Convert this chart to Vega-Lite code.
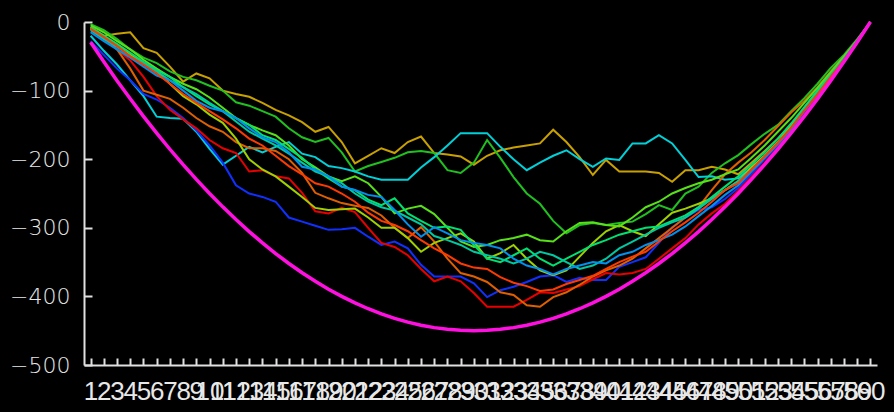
{
  "$schema": "https://vega.github.io/schema/vega-lite/v6.json",
  "width": 793,
  "height": 343,
  "autosize": {"type": "none"},
  "padding": {"left": 84, "top": 22, "right": 17, "bottom": 47},
  "background": "#000000",
  "config": {
    "view": {"stroke": null},
    "axis": {
      "domainColor": "#e0e0e0",
      "domainWidth": 2,
      "tickColor": "#e0e0e0",
      "tickWidth": 2,
      "labelColor": "#e8e8e8",
      "grid": false,
      "title": null
    }
  },
  "datasets": {
    "walks": [
      {"s":"gold","x":1,"y":-7},{"s":"gold","x":2,"y":-20},{"s":"gold","x":3,"y":-17},{"s":"gold","x":4,"y":-15},{"s":"gold","x":5,"y":-38},{"s":"gold","x":6,"y":-45},{"s":"gold","x":7,"y":-65},{"s":"gold","x":8,"y":-87},{"s":"gold","x":9,"y":-75},{"s":"gold","x":10,"y":-82},
      {"s":"gold","x":11,"y":-100},{"s":"gold","x":12,"y":-105},{"s":"gold","x":13,"y":-109},{"s":"gold","x":14,"y":-118},{"s":"gold","x":15,"y":-128},{"s":"gold","x":16,"y":-136},{"s":"gold","x":17,"y":-146},{"s":"gold","x":18,"y":-160},{"s":"gold","x":19,"y":-153},{"s":"gold","x":20,"y":-175},
      {"s":"gold","x":21,"y":-206},{"s":"gold","x":22,"y":-195},{"s":"gold","x":23,"y":-184},{"s":"gold","x":24,"y":-191},{"s":"gold","x":25,"y":-175},{"s":"gold","x":26,"y":-167},{"s":"gold","x":27,"y":-191},{"s":"gold","x":28,"y":-193},{"s":"gold","x":29,"y":-196},{"s":"gold","x":30,"y":-208},
      {"s":"gold","x":31,"y":-195},{"s":"gold","x":32,"y":-187},{"s":"gold","x":33,"y":-183},{"s":"gold","x":34,"y":-180},{"s":"gold","x":35,"y":-177},{"s":"gold","x":36,"y":-157},{"s":"gold","x":37,"y":-175},{"s":"gold","x":38,"y":-197},{"s":"gold","x":39,"y":-223},{"s":"gold","x":40,"y":-201},
      {"s":"gold","x":41,"y":-218},{"s":"gold","x":42,"y":-218},{"s":"gold","x":43,"y":-218},{"s":"gold","x":44,"y":-220},{"s":"gold","x":45,"y":-233},{"s":"gold","x":46,"y":-216},{"s":"gold","x":47,"y":-216},{"s":"gold","x":48,"y":-211},{"s":"gold","x":49,"y":-215},{"s":"gold","x":50,"y":-222},
      {"s":"gold","x":51,"y":-205},{"s":"gold","x":52,"y":-188},{"s":"gold","x":53,"y":-170},{"s":"gold","x":54,"y":-150},{"s":"gold","x":55,"y":-128},{"s":"gold","x":56,"y":-105},{"s":"gold","x":57,"y":-82},{"s":"gold","x":58,"y":-57},{"s":"gold","x":59,"y":-30},{"s":"gold","x":60,"y":0},

      {"s":"green","x":1,"y":-3},{"s":"green","x":2,"y":-12},{"s":"green","x":3,"y":-25},{"s":"green","x":4,"y":-40},{"s":"green","x":5,"y":-52},{"s":"green","x":6,"y":-60},{"s":"green","x":7,"y":-72},{"s":"green","x":8,"y":-80},{"s":"green","x":9,"y":-85},{"s":"green","x":10,"y":-93},
      {"s":"green","x":11,"y":-100},{"s":"green","x":12,"y":-117},{"s":"green","x":13,"y":-122},{"s":"green","x":14,"y":-130},{"s":"green","x":15,"y":-138},{"s":"green","x":16,"y":-155},{"s":"green","x":17,"y":-168},{"s":"green","x":18,"y":-175},{"s":"green","x":19,"y":-169},{"s":"green","x":20,"y":-190},
      {"s":"green","x":21,"y":-218},{"s":"green","x":22,"y":-210},{"s":"green","x":23,"y":-204},{"s":"green","x":24,"y":-198},{"s":"green","x":25,"y":-190},{"s":"green","x":26,"y":-188},{"s":"green","x":27,"y":-191},{"s":"green","x":28,"y":-216},{"s":"green","x":29,"y":-220},{"s":"green","x":30,"y":-205},
      {"s":"green","x":31,"y":-172},{"s":"green","x":32,"y":-198},{"s":"green","x":33,"y":-226},{"s":"green","x":34,"y":-250},{"s":"green","x":35,"y":-265},{"s":"green","x":36,"y":-290},{"s":"green","x":37,"y":-308},{"s":"green","x":38,"y":-296},{"s":"green","x":39,"y":-293},{"s":"green","x":40,"y":-296},
      {"s":"green","x":41,"y":-293},{"s":"green","x":42,"y":-291},{"s":"green","x":43,"y":-280},{"s":"green","x":44,"y":-267},{"s":"green","x":45,"y":-274},{"s":"green","x":46,"y":-250},{"s":"green","x":47,"y":-240},{"s":"green","x":48,"y":-220},{"s":"green","x":49,"y":-206},{"s":"green","x":50,"y":-194},
      {"s":"green","x":51,"y":-178},{"s":"green","x":52,"y":-163},{"s":"green","x":53,"y":-150},{"s":"green","x":54,"y":-130},{"s":"green","x":55,"y":-111},{"s":"green","x":56,"y":-90},{"s":"green","x":57,"y":-67},{"s":"green","x":58,"y":-48},{"s":"green","x":59,"y":-25},{"s":"green","x":60,"y":0},

      {"s":"cyan","x":1,"y":-20},{"s":"cyan","x":2,"y":-42},{"s":"cyan","x":3,"y":-62},{"s":"cyan","x":4,"y":-85},{"s":"cyan","x":5,"y":-108},{"s":"cyan","x":6,"y":-138},{"s":"cyan","x":7,"y":-140},{"s":"cyan","x":8,"y":-141},{"s":"cyan","x":9,"y":-160},{"s":"cyan","x":10,"y":-185},
      {"s":"cyan","x":11,"y":-208},{"s":"cyan","x":12,"y":-195},{"s":"cyan","x":13,"y":-182},{"s":"cyan","x":14,"y":-190},{"s":"cyan","x":15,"y":-182},{"s":"cyan","x":16,"y":-175},{"s":"cyan","x":17,"y":-192},{"s":"cyan","x":18,"y":-197},{"s":"cyan","x":19,"y":-210},{"s":"cyan","x":20,"y":-213},
      {"s":"cyan","x":21,"y":-218},{"s":"cyan","x":22,"y":-225},{"s":"cyan","x":23,"y":-230},{"s":"cyan","x":24,"y":-230},{"s":"cyan","x":25,"y":-230},{"s":"cyan","x":26,"y":-212},{"s":"cyan","x":27,"y":-197},{"s":"cyan","x":28,"y":-180},{"s":"cyan","x":29,"y":-162},{"s":"cyan","x":30,"y":-162},
      {"s":"cyan","x":31,"y":-162},{"s":"cyan","x":32,"y":-182},{"s":"cyan","x":33,"y":-200},{"s":"cyan","x":34,"y":-216},{"s":"cyan","x":35,"y":-205},{"s":"cyan","x":36,"y":-195},{"s":"cyan","x":37,"y":-187},{"s":"cyan","x":38,"y":-200},{"s":"cyan","x":39,"y":-211},{"s":"cyan","x":40,"y":-199},
      {"s":"cyan","x":41,"y":-201},{"s":"cyan","x":42,"y":-177},{"s":"cyan","x":43,"y":-177},{"s":"cyan","x":44,"y":-165},{"s":"cyan","x":45,"y":-177},{"s":"cyan","x":46,"y":-201},{"s":"cyan","x":47,"y":-226},{"s":"cyan","x":48,"y":-225},{"s":"cyan","x":49,"y":-230},{"s":"cyan","x":50,"y":-228},
      {"s":"cyan","x":51,"y":-212},{"s":"cyan","x":52,"y":-195},{"s":"cyan","x":53,"y":-175},{"s":"cyan","x":54,"y":-152},{"s":"cyan","x":55,"y":-125},{"s":"cyan","x":56,"y":-100},{"s":"cyan","x":57,"y":-75},{"s":"cyan","x":58,"y":-52},{"s":"cyan","x":59,"y":-27},{"s":"cyan","x":60,"y":0},

      {"s":"blue","x":1,"y":-28},{"s":"blue","x":2,"y":-48},{"s":"blue","x":3,"y":-68},{"s":"blue","x":4,"y":-85},{"s":"blue","x":5,"y":-105},{"s":"blue","x":6,"y":-113},{"s":"blue","x":7,"y":-125},{"s":"blue","x":8,"y":-140},{"s":"blue","x":9,"y":-158},{"s":"blue","x":10,"y":-180},
      {"s":"blue","x":11,"y":-205},{"s":"blue","x":12,"y":-238},{"s":"blue","x":13,"y":-250},{"s":"blue","x":14,"y":-255},{"s":"blue","x":15,"y":-262},{"s":"blue","x":16,"y":-285},{"s":"blue","x":17,"y":-291},{"s":"blue","x":18,"y":-297},{"s":"blue","x":19,"y":-303},{"s":"blue","x":20,"y":-302},
      {"s":"blue","x":21,"y":-300},{"s":"blue","x":22,"y":-313},{"s":"blue","x":23,"y":-325},{"s":"blue","x":24,"y":-320},{"s":"blue","x":25,"y":-330},{"s":"blue","x":26,"y":-354},{"s":"blue","x":27,"y":-371},{"s":"blue","x":28,"y":-371},{"s":"blue","x":29,"y":-371},{"s":"blue","x":30,"y":-381},
      {"s":"blue","x":31,"y":-401},{"s":"blue","x":32,"y":-391},{"s":"blue","x":33,"y":-386},{"s":"blue","x":34,"y":-379},{"s":"blue","x":35,"y":-371},{"s":"blue","x":36,"y":-369},{"s":"blue","x":37,"y":-379},{"s":"blue","x":38,"y":-373},{"s":"blue","x":39,"y":-376},{"s":"blue","x":40,"y":-376},
      {"s":"blue","x":41,"y":-357},{"s":"blue","x":42,"y":-350},{"s":"blue","x":43,"y":-343},{"s":"blue","x":44,"y":-322},{"s":"blue","x":45,"y":-299},{"s":"blue","x":46,"y":-285},{"s":"blue","x":47,"y":-274},{"s":"blue","x":48,"y":-270},{"s":"blue","x":49,"y":-258},{"s":"blue","x":50,"y":-242},
      {"s":"blue","x":51,"y":-222},{"s":"blue","x":52,"y":-200},{"s":"blue","x":53,"y":-180},{"s":"blue","x":54,"y":-158},{"s":"blue","x":55,"y":-132},{"s":"blue","x":56,"y":-108},{"s":"blue","x":57,"y":-82},{"s":"blue","x":58,"y":-56},{"s":"blue","x":59,"y":-29},{"s":"blue","x":60,"y":0},

      {"s":"red","x":1,"y":-10},{"s":"red","x":2,"y":-25},{"s":"red","x":3,"y":-40},{"s":"red","x":4,"y":-56},{"s":"red","x":5,"y":-80},{"s":"red","x":6,"y":-108},{"s":"red","x":7,"y":-128},{"s":"red","x":8,"y":-142},{"s":"red","x":9,"y":-155},{"s":"red","x":10,"y":-172},
      {"s":"red","x":11,"y":-184},{"s":"red","x":12,"y":-191},{"s":"red","x":13,"y":-218},{"s":"red","x":14,"y":-216},{"s":"red","x":15,"y":-225},{"s":"red","x":16,"y":-228},{"s":"red","x":17,"y":-249},{"s":"red","x":18,"y":-276},{"s":"red","x":19,"y":-279},{"s":"red","x":20,"y":-271},
      {"s":"red","x":21,"y":-277},{"s":"red","x":22,"y":-300},{"s":"red","x":23,"y":-322},{"s":"red","x":24,"y":-328},{"s":"red","x":25,"y":-340},{"s":"red","x":26,"y":-360},{"s":"red","x":27,"y":-378},{"s":"red","x":28,"y":-371},{"s":"red","x":29,"y":-378},{"s":"red","x":30,"y":-395},
      {"s":"red","x":31,"y":-415},{"s":"red","x":32,"y":-415},{"s":"red","x":33,"y":-415},{"s":"red","x":34,"y":-405},{"s":"red","x":35,"y":-394},{"s":"red","x":36,"y":-395},{"s":"red","x":37,"y":-390},{"s":"red","x":38,"y":-385},{"s":"red","x":39,"y":-375},{"s":"red","x":40,"y":-366},
      {"s":"red","x":41,"y":-368},{"s":"red","x":42,"y":-366},{"s":"red","x":43,"y":-360},{"s":"red","x":44,"y":-345},{"s":"red","x":45,"y":-330},{"s":"red","x":46,"y":-315},{"s":"red","x":47,"y":-295},{"s":"red","x":48,"y":-279},{"s":"red","x":49,"y":-265},{"s":"red","x":50,"y":-246},
      {"s":"red","x":51,"y":-226},{"s":"red","x":52,"y":-205},{"s":"red","x":53,"y":-183},{"s":"red","x":54,"y":-160},{"s":"red","x":55,"y":-135},{"s":"red","x":56,"y":-110},{"s":"red","x":57,"y":-84},{"s":"red","x":58,"y":-57},{"s":"red","x":59,"y":-29},{"s":"red","x":60,"y":0},

      {"s":"orange","x":1,"y":-8},{"s":"orange","x":2,"y":-20},{"s":"orange","x":3,"y":-40},{"s":"orange","x":4,"y":-68},{"s":"orange","x":5,"y":-100},{"s":"orange","x":6,"y":-106},{"s":"orange","x":7,"y":-112},{"s":"orange","x":8,"y":-125},{"s":"orange","x":9,"y":-140},{"s":"orange","x":10,"y":-152},
      {"s":"orange","x":11,"y":-160},{"s":"orange","x":12,"y":-175},{"s":"orange","x":13,"y":-184},{"s":"orange","x":14,"y":-184},{"s":"orange","x":15,"y":-188},{"s":"orange","x":16,"y":-200},{"s":"orange","x":17,"y":-220},{"s":"orange","x":18,"y":-249},{"s":"orange","x":19,"y":-257},{"s":"orange","x":20,"y":-264},
      {"s":"orange","x":21,"y":-268},{"s":"orange","x":22,"y":-271},{"s":"orange","x":23,"y":-282},{"s":"orange","x":24,"y":-300},{"s":"orange","x":25,"y":-315},{"s":"orange","x":26,"y":-299},{"s":"orange","x":27,"y":-320},{"s":"orange","x":28,"y":-345},{"s":"orange","x":29,"y":-366},{"s":"orange","x":30,"y":-371},
      {"s":"orange","x":31,"y":-379},{"s":"orange","x":32,"y":-394},{"s":"orange","x":33,"y":-398},{"s":"orange","x":34,"y":-413},{"s":"orange","x":35,"y":-415},{"s":"orange","x":36,"y":-401},{"s":"orange","x":37,"y":-394},{"s":"orange","x":38,"y":-383},{"s":"orange","x":39,"y":-371},{"s":"orange","x":40,"y":-362},
      {"s":"orange","x":41,"y":-355},{"s":"orange","x":42,"y":-345},{"s":"orange","x":43,"y":-330},{"s":"orange","x":44,"y":-315},{"s":"orange","x":45,"y":-300},{"s":"orange","x":46,"y":-285},{"s":"orange","x":47,"y":-270},{"s":"orange","x":48,"y":-245},{"s":"orange","x":49,"y":-222},{"s":"orange","x":50,"y":-205},
      {"s":"orange","x":51,"y":-190},{"s":"orange","x":52,"y":-172},{"s":"orange","x":53,"y":-152},{"s":"orange","x":54,"y":-132},{"s":"orange","x":55,"y":-115},{"s":"orange","x":56,"y":-95},{"s":"orange","x":57,"y":-72},{"s":"orange","x":58,"y":-50},{"s":"orange","x":59,"y":-27},{"s":"orange","x":60,"y":0},

      {"s":"yellowgreen","x":1,"y":-10},{"s":"yellowgreen","x":2,"y":-22},{"s":"yellowgreen","x":3,"y":-35},{"s":"yellowgreen","x":4,"y":-48},{"s":"yellowgreen","x":5,"y":-60},{"s":"yellowgreen","x":6,"y":-72},{"s":"yellowgreen","x":7,"y":-90},{"s":"yellowgreen","x":8,"y":-108},{"s":"yellowgreen","x":9,"y":-120},{"s":"yellowgreen","x":10,"y":-135},
      {"s":"yellowgreen","x":11,"y":-147},{"s":"yellowgreen","x":12,"y":-170},{"s":"yellowgreen","x":13,"y":-200},{"s":"yellowgreen","x":14,"y":-215},{"s":"yellowgreen","x":15,"y":-225},{"s":"yellowgreen","x":16,"y":-240},{"s":"yellowgreen","x":17,"y":-255},{"s":"yellowgreen","x":18,"y":-271},{"s":"yellowgreen","x":19,"y":-274},{"s":"yellowgreen","x":20,"y":-273},
      {"s":"yellowgreen","x":21,"y":-272},{"s":"yellowgreen","x":22,"y":-285},{"s":"yellowgreen","x":23,"y":-300},{"s":"yellowgreen","x":24,"y":-300},{"s":"yellowgreen","x":25,"y":-315},{"s":"yellowgreen","x":26,"y":-335},{"s":"yellowgreen","x":27,"y":-322},{"s":"yellowgreen","x":28,"y":-315},{"s":"yellowgreen","x":29,"y":-308},{"s":"yellowgreen","x":30,"y":-320},
      {"s":"yellowgreen","x":31,"y":-345},{"s":"yellowgreen","x":32,"y":-337},{"s":"yellowgreen","x":33,"y":-325},{"s":"yellowgreen","x":34,"y":-345},{"s":"yellowgreen","x":35,"y":-362},{"s":"yellowgreen","x":36,"y":-369},{"s":"yellowgreen","x":37,"y":-362},{"s":"yellowgreen","x":38,"y":-342},{"s":"yellowgreen","x":39,"y":-322},{"s":"yellowgreen","x":40,"y":-305},
      {"s":"yellowgreen","x":41,"y":-296},{"s":"yellowgreen","x":42,"y":-305},{"s":"yellowgreen","x":43,"y":-312},{"s":"yellowgreen","x":44,"y":-295},{"s":"yellowgreen","x":45,"y":-278},{"s":"yellowgreen","x":46,"y":-272},{"s":"yellowgreen","x":47,"y":-265},{"s":"yellowgreen","x":48,"y":-257},{"s":"yellowgreen","x":49,"y":-245},{"s":"yellowgreen","x":50,"y":-232},
      {"s":"yellowgreen","x":51,"y":-212},{"s":"yellowgreen","x":52,"y":-195},{"s":"yellowgreen","x":53,"y":-175},{"s":"yellowgreen","x":54,"y":-152},{"s":"yellowgreen","x":55,"y":-128},{"s":"yellowgreen","x":56,"y":-104},{"s":"yellowgreen","x":57,"y":-80},{"s":"yellowgreen","x":58,"y":-55},{"s":"yellowgreen","x":59,"y":-29},{"s":"yellowgreen","x":60,"y":0},

      {"s":"lime","x":1,"y":-5},{"s":"lime","x":2,"y":-15},{"s":"lime","x":3,"y":-28},{"s":"lime","x":4,"y":-40},{"s":"lime","x":5,"y":-55},{"s":"lime","x":6,"y":-68},{"s":"lime","x":7,"y":-80},{"s":"lime","x":8,"y":-90},{"s":"lime","x":9,"y":-98},{"s":"lime","x":10,"y":-110},
      {"s":"lime","x":11,"y":-125},{"s":"lime","x":12,"y":-140},{"s":"lime","x":13,"y":-150},{"s":"lime","x":14,"y":-158},{"s":"lime","x":15,"y":-165},{"s":"lime","x":16,"y":-180},{"s":"lime","x":17,"y":-200},{"s":"lime","x":18,"y":-212},{"s":"lime","x":19,"y":-225},{"s":"lime","x":20,"y":-232},
      {"s":"lime","x":21,"y":-225},{"s":"lime","x":22,"y":-235},{"s":"lime","x":23,"y":-255},{"s":"lime","x":24,"y":-279},{"s":"lime","x":25,"y":-272},{"s":"lime","x":26,"y":-268},{"s":"lime","x":27,"y":-280},{"s":"lime","x":28,"y":-300},{"s":"lime","x":29,"y":-320},{"s":"lime","x":30,"y":-328},
      {"s":"lime","x":31,"y":-325},{"s":"lime","x":32,"y":-318},{"s":"lime","x":33,"y":-315},{"s":"lime","x":34,"y":-310},{"s":"lime","x":35,"y":-318},{"s":"lime","x":36,"y":-320},{"s":"lime","x":37,"y":-305},{"s":"lime","x":38,"y":-293},{"s":"lime","x":39,"y":-292},{"s":"lime","x":40,"y":-296},
      {"s":"lime","x":41,"y":-298},{"s":"lime","x":42,"y":-285},{"s":"lime","x":43,"y":-270},{"s":"lime","x":44,"y":-262},{"s":"lime","x":45,"y":-250},{"s":"lime","x":46,"y":-242},{"s":"lime","x":47,"y":-235},{"s":"lime","x":48,"y":-230},{"s":"lime","x":49,"y":-222},{"s":"lime","x":50,"y":-215},
      {"s":"lime","x":51,"y":-198},{"s":"lime","x":52,"y":-180},{"s":"lime","x":53,"y":-160},{"s":"lime","x":54,"y":-140},{"s":"lime","x":55,"y":-118},{"s":"lime","x":56,"y":-96},{"s":"lime","x":57,"y":-73},{"s":"lime","x":58,"y":-50},{"s":"lime","x":59,"y":-27},{"s":"lime","x":60,"y":0},

      {"s":"spring","x":1,"y":-8},{"s":"spring","x":2,"y":-20},{"s":"spring","x":3,"y":-32},{"s":"spring","x":4,"y":-45},{"s":"spring","x":5,"y":-58},{"s":"spring","x":6,"y":-70},{"s":"spring","x":7,"y":-80},{"s":"spring","x":8,"y":-95},{"s":"spring","x":9,"y":-108},{"s":"spring","x":10,"y":-120},
      {"s":"spring","x":11,"y":-130},{"s":"spring","x":12,"y":-140},{"s":"spring","x":13,"y":-150},{"s":"spring","x":14,"y":-165},{"s":"spring","x":15,"y":-172},{"s":"spring","x":16,"y":-185},{"s":"spring","x":17,"y":-198},{"s":"spring","x":18,"y":-215},{"s":"spring","x":19,"y":-228},{"s":"spring","x":20,"y":-240},
      {"s":"spring","x":21,"y":-245},{"s":"spring","x":22,"y":-259},{"s":"spring","x":23,"y":-267},{"s":"spring","x":24,"y":-257},{"s":"spring","x":25,"y":-279},{"s":"spring","x":26,"y":-290},{"s":"spring","x":27,"y":-300},{"s":"spring","x":28,"y":-298},{"s":"spring","x":29,"y":-303},{"s":"spring","x":30,"y":-325},
      {"s":"spring","x":31,"y":-345},{"s":"spring","x":32,"y":-350},{"s":"spring","x":33,"y":-340},{"s":"spring","x":34,"y":-330},{"s":"spring","x":35,"y":-345},{"s":"spring","x":36,"y":-355},{"s":"spring","x":37,"y":-345},{"s":"spring","x":38,"y":-335},{"s":"spring","x":39,"y":-325},{"s":"spring","x":40,"y":-318},
      {"s":"spring","x":41,"y":-310},{"s":"spring","x":42,"y":-305},{"s":"spring","x":43,"y":-300},{"s":"spring","x":44,"y":-298},{"s":"spring","x":45,"y":-290},{"s":"spring","x":46,"y":-282},{"s":"spring","x":47,"y":-270},{"s":"spring","x":48,"y":-255},{"s":"spring","x":49,"y":-240},{"s":"spring","x":50,"y":-225},
      {"s":"spring","x":51,"y":-208},{"s":"spring","x":52,"y":-190},{"s":"spring","x":53,"y":-170},{"s":"spring","x":54,"y":-148},{"s":"spring","x":55,"y":-124},{"s":"spring","x":56,"y":-100},{"s":"spring","x":57,"y":-77},{"s":"spring","x":58,"y":-53},{"s":"spring","x":59,"y":-28},{"s":"spring","x":60,"y":0},

      {"s":"teal","x":1,"y":-12},{"s":"teal","x":2,"y":-25},{"s":"teal","x":3,"y":-36},{"s":"teal","x":4,"y":-50},{"s":"teal","x":5,"y":-60},{"s":"teal","x":6,"y":-72},{"s":"teal","x":7,"y":-85},{"s":"teal","x":8,"y":-95},{"s":"teal","x":9,"y":-105},{"s":"teal","x":10,"y":-118},
      {"s":"teal","x":11,"y":-130},{"s":"teal","x":12,"y":-145},{"s":"teal","x":13,"y":-160},{"s":"teal","x":14,"y":-170},{"s":"teal","x":15,"y":-180},{"s":"teal","x":16,"y":-192},{"s":"teal","x":17,"y":-205},{"s":"teal","x":18,"y":-218},{"s":"teal","x":19,"y":-225},{"s":"teal","x":20,"y":-235},
      {"s":"teal","x":21,"y":-250},{"s":"teal","x":22,"y":-262},{"s":"teal","x":23,"y":-270},{"s":"teal","x":24,"y":-275},{"s":"teal","x":25,"y":-285},{"s":"teal","x":26,"y":-295},{"s":"teal","x":27,"y":-312},{"s":"teal","x":28,"y":-318},{"s":"teal","x":29,"y":-325},{"s":"teal","x":30,"y":-335},
      {"s":"teal","x":31,"y":-340},{"s":"teal","x":32,"y":-345},{"s":"teal","x":33,"y":-352},{"s":"teal","x":34,"y":-345},{"s":"teal","x":35,"y":-335},{"s":"teal","x":36,"y":-340},{"s":"teal","x":37,"y":-350},{"s":"teal","x":38,"y":-360},{"s":"teal","x":39,"y":-355},{"s":"teal","x":40,"y":-345},
      {"s":"teal","x":41,"y":-330},{"s":"teal","x":42,"y":-320},{"s":"teal","x":43,"y":-310},{"s":"teal","x":44,"y":-300},{"s":"teal","x":45,"y":-292},{"s":"teal","x":46,"y":-285},{"s":"teal","x":47,"y":-272},{"s":"teal","x":48,"y":-258},{"s":"teal","x":49,"y":-245},{"s":"teal","x":50,"y":-232},
      {"s":"teal","x":51,"y":-215},{"s":"teal","x":52,"y":-196},{"s":"teal","x":53,"y":-176},{"s":"teal","x":54,"y":-154},{"s":"teal","x":55,"y":-128},{"s":"teal","x":56,"y":-104},{"s":"teal","x":57,"y":-79},{"s":"teal","x":58,"y":-54},{"s":"teal","x":59,"y":-28},{"s":"teal","x":60,"y":0},

      {"s":"sky","x":1,"y":-15},{"s":"sky","x":2,"y":-28},{"s":"sky","x":3,"y":-40},{"s":"sky","x":4,"y":-52},{"s":"sky","x":5,"y":-65},{"s":"sky","x":6,"y":-78},{"s":"sky","x":7,"y":-85},{"s":"sky","x":8,"y":-100},{"s":"sky","x":9,"y":-115},{"s":"sky","x":10,"y":-125},
      {"s":"sky","x":11,"y":-130},{"s":"sky","x":12,"y":-140},{"s":"sky","x":13,"y":-155},{"s":"sky","x":14,"y":-168},{"s":"sky","x":15,"y":-175},{"s":"sky","x":16,"y":-190},{"s":"sky","x":17,"y":-211},{"s":"sky","x":18,"y":-215},{"s":"sky","x":19,"y":-225},{"s":"sky","x":20,"y":-240},
      {"s":"sky","x":21,"y":-245},{"s":"sky","x":22,"y":-252},{"s":"sky","x":23,"y":-255},{"s":"sky","x":24,"y":-274},{"s":"sky","x":25,"y":-295},{"s":"sky","x":26,"y":-313},{"s":"sky","x":27,"y":-299},{"s":"sky","x":28,"y":-308},{"s":"sky","x":29,"y":-318},{"s":"sky","x":30,"y":-322},
      {"s":"sky","x":31,"y":-325},{"s":"sky","x":32,"y":-330},{"s":"sky","x":33,"y":-345},{"s":"sky","x":34,"y":-355},{"s":"sky","x":35,"y":-360},{"s":"sky","x":36,"y":-368},{"s":"sky","x":37,"y":-360},{"s":"sky","x":38,"y":-355},{"s":"sky","x":39,"y":-350},{"s":"sky","x":40,"y":-352},
      {"s":"sky","x":41,"y":-340},{"s":"sky","x":42,"y":-335},{"s":"sky","x":43,"y":-325},{"s":"sky","x":44,"y":-318},{"s":"sky","x":45,"y":-310},{"s":"sky","x":46,"y":-298},{"s":"sky","x":47,"y":-283},{"s":"sky","x":48,"y":-268},{"s":"sky","x":49,"y":-252},{"s":"sky","x":50,"y":-238},
      {"s":"sky","x":51,"y":-218},{"s":"sky","x":52,"y":-198},{"s":"sky","x":53,"y":-178},{"s":"sky","x":54,"y":-156},{"s":"sky","x":55,"y":-130},{"s":"sky","x":56,"y":-106},{"s":"sky","x":57,"y":-81},{"s":"sky","x":58,"y":-55},{"s":"sky","x":59,"y":-28},{"s":"sky","x":60,"y":0},

      {"s":"orangered","x":1,"y":-10},{"s":"orangered","x":2,"y":-22},{"s":"orangered","x":3,"y":-35},{"s":"orangered","x":4,"y":-50},{"s":"orangered","x":5,"y":-62},{"s":"orangered","x":6,"y":-75},{"s":"orangered","x":7,"y":-90},{"s":"orangered","x":8,"y":-105},{"s":"orangered","x":9,"y":-118},{"s":"orangered","x":10,"y":-130},
      {"s":"orangered","x":11,"y":-142},{"s":"orangered","x":12,"y":-155},{"s":"orangered","x":13,"y":-170},{"s":"orangered","x":14,"y":-180},{"s":"orangered","x":15,"y":-195},{"s":"orangered","x":16,"y":-210},{"s":"orangered","x":17,"y":-222},{"s":"orangered","x":18,"y":-235},{"s":"orangered","x":19,"y":-240},{"s":"orangered","x":20,"y":-250},
      {"s":"orangered","x":21,"y":-262},{"s":"orangered","x":22,"y":-278},{"s":"orangered","x":23,"y":-290},{"s":"orangered","x":24,"y":-296},{"s":"orangered","x":25,"y":-305},{"s":"orangered","x":26,"y":-318},{"s":"orangered","x":27,"y":-330},{"s":"orangered","x":28,"y":-340},{"s":"orangered","x":29,"y":-352},{"s":"orangered","x":30,"y":-358},
      {"s":"orangered","x":31,"y":-360},{"s":"orangered","x":32,"y":-372},{"s":"orangered","x":33,"y":-380},{"s":"orangered","x":34,"y":-385},{"s":"orangered","x":35,"y":-392},{"s":"orangered","x":36,"y":-390},{"s":"orangered","x":37,"y":-382},{"s":"orangered","x":38,"y":-376},{"s":"orangered","x":39,"y":-370},{"s":"orangered","x":40,"y":-360},
      {"s":"orangered","x":41,"y":-350},{"s":"orangered","x":42,"y":-342},{"s":"orangered","x":43,"y":-335},{"s":"orangered","x":44,"y":-320},{"s":"orangered","x":45,"y":-305},{"s":"orangered","x":46,"y":-292},{"s":"orangered","x":47,"y":-278},{"s":"orangered","x":48,"y":-262},{"s":"orangered","x":49,"y":-245},{"s":"orangered","x":50,"y":-235},
      {"s":"orangered","x":51,"y":-215},{"s":"orangered","x":52,"y":-196},{"s":"orangered","x":53,"y":-176},{"s":"orangered","x":54,"y":-154},{"s":"orangered","x":55,"y":-129},{"s":"orangered","x":56,"y":-105},{"s":"orangered","x":57,"y":-80},{"s":"orangered","x":58,"y":-55},{"s":"orangered","x":59,"y":-28},{"s":"orangered","x":60,"y":0}
    ],
    "bound": [
      {"x":1,"y":-29.5},{"x":2,"y":-58},{"x":3,"y":-85.5},{"x":4,"y":-112},{"x":5,"y":-137.5},{"x":6,"y":-162},{"x":7,"y":-185.5},{"x":8,"y":-208},{"x":9,"y":-229.5},{"x":10,"y":-250},
      {"x":11,"y":-269.5},{"x":12,"y":-288},{"x":13,"y":-305.5},{"x":14,"y":-322},{"x":15,"y":-337.5},{"x":16,"y":-352},{"x":17,"y":-365.5},{"x":18,"y":-378},{"x":19,"y":-389.5},{"x":20,"y":-400},
      {"x":21,"y":-409.5},{"x":22,"y":-418},{"x":23,"y":-425.5},{"x":24,"y":-432},{"x":25,"y":-437.5},{"x":26,"y":-442},{"x":27,"y":-445.5},{"x":28,"y":-448},{"x":29,"y":-449.5},{"x":30,"y":-450},
      {"x":31,"y":-449.5},{"x":32,"y":-448},{"x":33,"y":-445.5},{"x":34,"y":-442},{"x":35,"y":-437.5},{"x":36,"y":-432},{"x":37,"y":-425.5},{"x":38,"y":-418},{"x":39,"y":-409.5},{"x":40,"y":-400},
      {"x":41,"y":-389.5},{"x":42,"y":-378},{"x":43,"y":-365.5},{"x":44,"y":-352},{"x":45,"y":-337.5},{"x":46,"y":-322},{"x":47,"y":-305.5},{"x":48,"y":-288},{"x":49,"y":-269.5},{"x":50,"y":-250},
      {"x":51,"y":-229.5},{"x":52,"y":-208},{"x":53,"y":-185.5},{"x":54,"y":-162},{"x":55,"y":-137.5},{"x":56,"y":-112},{"x":57,"y":-85.5},{"x":58,"y":-58},{"x":59,"y":-29.5},{"x":60,"y":0}
    ]
  },
  "encoding": {
    "x": {
      "field": "x",
      "type": "ordinal",
      "sort": "ascending",
      "scale": {"type": "point", "padding": 0.5},
      "axis": {
        "labelAngle": 0,
        "labelOverlap": false,
        "labelFlush": false,
        "labelFont": "Liberation Sans",
        "labelFontSize": 26,
        "labelPadding": 20,
        "tickSize": -7
      }
    },
    "y": {
      "field": "y",
      "type": "quantitative",
      "scale": {"domain": [-500, 0], "nice": false, "zero": false},
      "axis": {
        "values": [-500, -400, -300, -200, -100, 0],
        "labelFont": "DejaVu Sans",
        "labelFontSize": 22,
        "labelFontWeight": 200,
        "labelPadding": 22,
        "tickSize": -8
      }
    }
  },
  "layer": [
    {
      "data": {"name": "walks"},
      "mark": {"type": "line", "strokeWidth": 2, "interpolate": "linear"},
      "encoding": {
        "detail": {"field": "s"},
        "color": {
          "field": "s",
          "type": "nominal",
          "legend": null,
          "scale": {
            "domain": ["red", "orangered", "orange", "gold", "yellowgreen", "lime", "green", "spring", "teal", "cyan", "sky", "blue"],
            "range": ["#e80000", "#ff3a00", "#e06000", "#c8a000", "#a0d000", "#58e018", "#20c020", "#00e070", "#00c8a0", "#00d0d8", "#0090f0", "#1030ff"]
          }
        }
      }
    },
    {
      "data": {"name": "bound"},
      "mark": {"type": "line", "strokeWidth": 3.5, "color": "#ff10e0"},
      "encoding": {}
    }
  ]
}
